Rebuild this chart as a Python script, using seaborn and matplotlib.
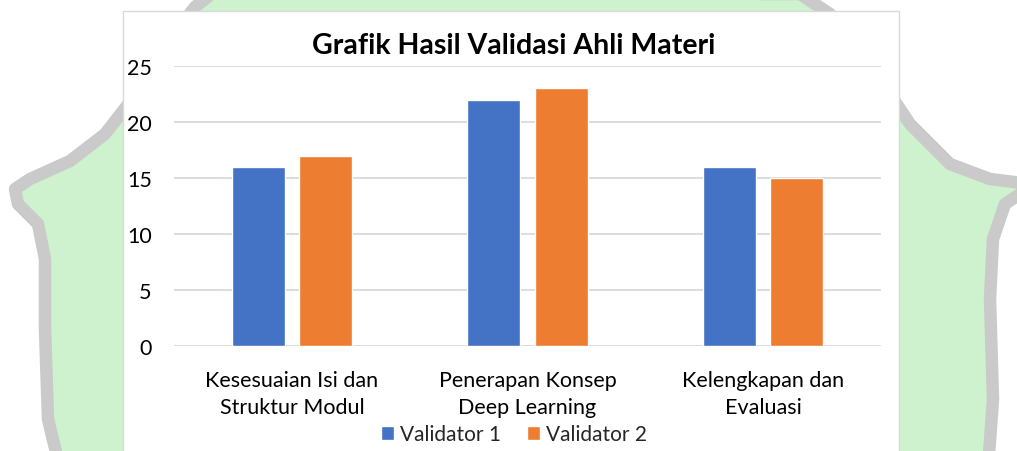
import matplotlib.pyplot as plt
import numpy as np
import pandas as pd
import seaborn as sns
from matplotlib.patches import Polygon, Rectangle

# Data
kategori = ["Kesesuaian Isi dan\nStruktur Modul", "Penerapan Konsep\nDeep Learning", "Kelengkapan dan\nEvaluasi"]
validator_1 = [16, 22, 16]
validator_2 = [17, 23, 15]
seri = ["Validator 1", "Validator 2"]
warna = ["#4472C4", "#ED7D31"]

W, H = 1017, 452

sns.set_theme(style="white")
plt.rcParams["font.family"] = ["Lato", "DejaVu Sans"]

fig = plt.figure(figsize=(W / 100, H / 100), dpi=100)
fig.patch.set_facecolor("white")


def px(pts):
    return [(x / W, 1 - y / H) for x, y in pts]


# background watermark shape (approximate)
luar = [
    (18, 205), (15, 190), (30, 180), (70, 162), (105, 135), (140, 90), (170, 40),
    (195, 8), (230, -20), (740, -20), (760, -5), (800, -5), (830, 15), (870, 65),
    (910, 125), (950, 165), (990, 180), (1030, 185), (1020, 195), (1005, 205),
    (993, 240), (990, 300), (993, 400), (988, 470), (60, 470), (48, 420),
    (45, 330), (45, 260), (38, 225),
]
fig.add_artist(Polygon(px(luar), closed=True, transform=fig.transFigure,
                       facecolor="#CDF2CD", edgecolor="#CACACA", linewidth=9,
                       joinstyle="round", zorder=0))

# chart box
fig.add_artist(Rectangle((123 / W, 1 - 470 / H), (899 - 123) / W, (470 - 12) / H,
                         transform=fig.transFigure, facecolor="white",
                         edgecolor="#D9D9D9", linewidth=1, zorder=1))

df = pd.DataFrame({
    "Kategori": kategori * 2,
    "Seri": [seri[0]] * 3 + [seri[1]] * 3,
    "Nilai": validator_1 + validator_2,
})

ax = fig.add_axes([174 / W, 1 - 347 / H, (881 - 174) / W, (347 - 67) / H])
ax.set_zorder(2)
ax.patch.set_alpha(0)
sns.barplot(data=df, x="Kategori", y="Nilai", hue="Seri", palette=warna,
            saturation=1, width=0.57, gap=0.21, ax=ax, legend=False, zorder=3)

ax.set_ylim(0, 25)
ax.set_xlim(-0.5, 2.5)
ax.set_yticks(np.arange(0, 26, 5))
ax.yaxis.grid(True, color="#D9D9D9", linewidth=1.3)
ax.set_axisbelow(True)
for s in ax.spines.values():
    s.set_visible(False)
ax.tick_params(axis="y", length=0, pad=16, labelsize=15.5, labelcolor="#000000")
ax.tick_params(axis="x", length=0, pad=17, labelsize=15.5, labelcolor="#000000")
for t in ax.get_xticklabels():
    t.set_linespacing(1.45)
ax.set_xlabel("")
ax.set_ylabel("")

fig.text(514 / W, 1 - 46 / H, "Grafik Hasil Validasi Ahli Materi", ha="center",
         va="center", fontsize=20.5, fontweight="bold", color="#000000", zorder=3)

handles = [Rectangle((0, 0), 1, 1, facecolor=c) for c in warna]
fig.legend(handles, seri, loc="center", bbox_to_anchor=(514 / W, 1 - 435 / H),
           ncol=2, frameon=False, fontsize=15, handlelength=0.65, handleheight=0.65,
           handletextpad=0.3, columnspacing=1.2, borderpad=0)

fig.savefig("out.png", dpi=100)
